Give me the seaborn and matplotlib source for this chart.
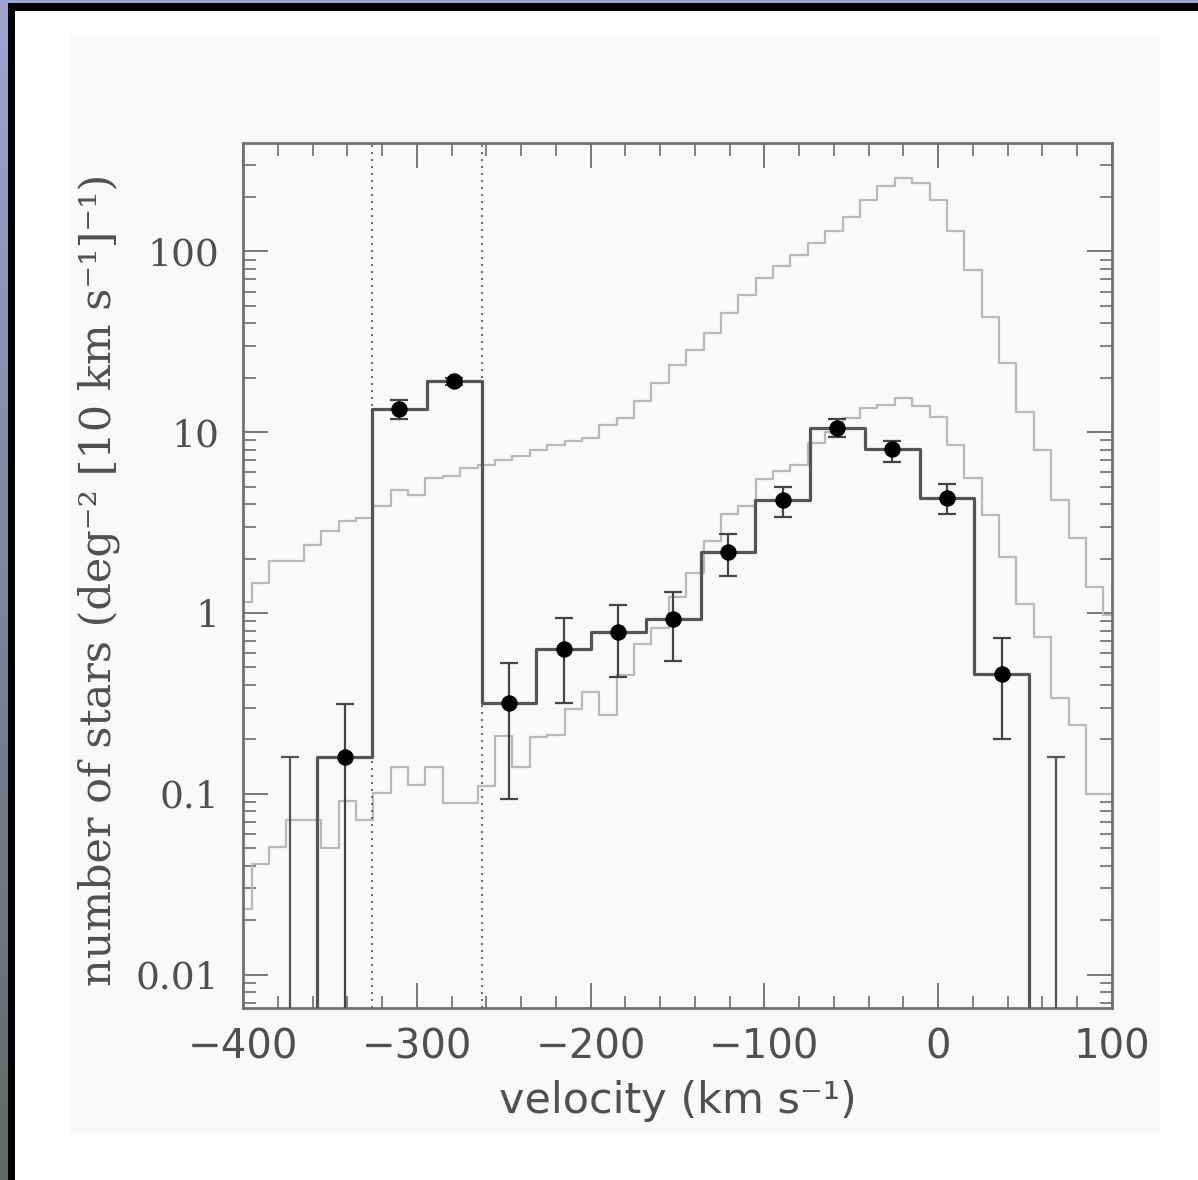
import numpy as np
import matplotlib
matplotlib.use("Agg")
import matplotlib.pyplot as plt
import seaborn as sns
from matplotlib.patches import Rectangle
from matplotlib.ticker import MultipleLocator, LogLocator, NullFormatter

# grey model histograms, 10 km/s bins (edges)
grey_edges = [-405, -395, -385, -375, -365, -355, -345, -335, -325, -315,
              -305, -295, -285, -275, -265, -255, -245, -235, -225, -215,
              -205, -195, -185, -175, -165, -155, -145, -135, -125, -115,
              -105, -95, -85, -75, -65, -55, -45, -35, -25, -15,
              -5, 5, 15, 25, 35, 45, 55, 65, 75, 85, 95, 105]
grey_upper = [1.15, 1.46, 1.93, 1.93, 2.39, 2.83, 3.21, 3.35, 3.89, 4.81,
              4.51, 5.58, 5.70, 6.34, 6.61, 7.05, 7.35, 8.0, 8.53, 8.89,
              9.29, 11.0, 12.0, 14.8, 18.7, 23.4, 28.6, 35.4, 45.6, 57.6,
              71.3, 82.6, 95.9, 111, 129, 156, 193, 229, 255, 239,
              193, 129, 79.3, 43.6, 24.2, 13.0, 8.0, 4.24, 2.60, 1.40, 0.98]
grey_lower = [0.023, 0.041, 0.051, 0.072, 0.072, 0.050, 0.091, 0.072, 0.101, 0.140,
              0.112, 0.140, 0.089, 0.089, 0.111, 0.208, 0.140, 0.205, 0.212, 0.296,
              0.366, 0.273, 0.456, 0.67, 0.83, 1.22, 1.66, 2.49, 3.55, 3.9,
              5.5, 6.1, 6.6, 8.7, 10.0, 12.0, 13.6, 14.2, 15.5, 13.9,
              12.2, 8.5, 5.6, 3.5, 2.05, 1.12, 0.74, 0.34, 0.24, 0.10, 0.10]

# observed histogram (empty bins kept tiny so the steps drop to the axis)
obs_edges = [-388.75, -357.25, -325.75, -294.25, -262.75, -231.25, -199.75, -168.25,
             -136.75, -105.25, -73.75, -42.25, -10.75, 20.75, 52.25, 83.75]
obs_counts = [1e-4, 0.16, 13.5, 19.1, 0.316, 0.63, 0.78, 0.93,
              2.17, 4.2, 10.6, 8.1, 4.35, 0.46, 1e-4]

# data points with error bars
pt_v = [-341.5, -310, -278.5, -247, -215.5, -184, -152.5, -121, -89.5, -58, -26.5, 5, 36.5]
pt_n = [0.16, 13.5, 19.1, 0.316, 0.63, 0.78, 0.93, 2.17, 4.2, 10.6, 8.1, 4.35, 0.46]
pt_lo = [1e-4, 11.9, 18.3, 0.093, 0.316, 0.445, 0.545, 1.6, 3.4, 9.4, 6.8, 3.52, 0.20]
pt_hi = [0.315, 15.0, 20.0, 0.53, 0.94, 1.11, 1.31, 2.75, 5.0, 11.8, 8.9, 5.2, 0.73]

# upper limits for empty bins
lim_v = [-373, 68]
lim_n = [0.16, 0.16]

# velocity cuts
cut_v = [-325.75, -262.75]

sns.set_style("ticks")
plt.rcParams['font.family'] = ['DejaVu Serif']

W, H = 1198, 1180
fig = plt.figure(figsize=(W / 100, H / 100), dpi=100)
fig.patch.set_facecolor('white')

# page frame
frame = [
    ((70 / W, 1 - 1135 / H), 1090 / W, 1100 / H, '#f8f9f8'),
    ((8 / W, 0), 7 / W, 1 - 3 / H, 'black'),
    ((8 / W, 1 - 11 / H), 1 - 8 / W, 8 / H, 'black'),
    ((0, 1 - 3 / H), 1, 3 / H, '#9fa3cf'),
]
for xy, w, h, c in frame:
    fig.patches.append(Rectangle(xy, w, h, transform=fig.transFigure,
                                 facecolor=c, edgecolor='none', zorder=-5))
side = fig.add_axes([0, 0, 8 / W, 1 - 3 / H], zorder=-4)
side.imshow(np.linspace(0, 1, 100).reshape(-1, 1), aspect='auto',
            cmap=matplotlib.colors.LinearSegmentedColormap.from_list(
                'frame', ['#9fa3cf', '#7d8598', '#5f6b68']))
side.axis('off')

ax = fig.add_axes([243 / W, 1 - 1008 / H, 869 / W, 865 / H], zorder=2)
ax.set_facecolor('#f8f9f8')

grey = '#b9b9b9'
gc = [(a + b) / 2 for a, b in zip(grey_edges[:-1], grey_edges[1:])]
sns.histplot(x=gc, weights=grey_upper, bins=grey_edges, element='step', fill=False,
             color=grey, linewidth=1.6, ax=ax, zorder=2)
sns.histplot(x=gc, weights=grey_lower, bins=grey_edges, element='step', fill=False,
             color=grey, linewidth=1.6, ax=ax, zorder=2)

oc = [(a + b) / 2 for a, b in zip(obs_edges[:-1], obs_edges[1:])]
sns.histplot(x=oc, weights=obs_counts, bins=obs_edges, element='step', fill=False,
             color='#555555', linewidth=2.3, ax=ax, zorder=3)

for v in cut_v:
    ax.axvline(v, color='#666666', lw=1.4, ls=(0, (1, 2.6)), zorder=2)

yerr = [np.array(pt_n) - np.array(pt_lo), np.array(pt_hi) - np.array(pt_n)]
ax.errorbar(pt_v, pt_n, yerr=yerr, fmt='none', ecolor='#444444', elinewidth=1.6,
            capsize=6.5, capthick=1.6, zorder=4)
ax.errorbar(lim_v, lim_n, yerr=[np.array(lim_n) - 1e-4, [0, 0]], fmt='none',
            ecolor='#555555', elinewidth=1.6, capsize=6.5, capthick=1.6, zorder=4)
sns.scatterplot(x=pt_v, y=pt_n, color='black', s=140, edgecolor='black', linewidth=0,
                ax=ax, zorder=5)

ax.set_yscale('log')
ax.set_xlim(-400, 100)
ax.set_ylim(0.00653, 398)

ax.set_xticks([-400, -300, -200, -100, 0, 100],
              ['\u2212400', '\u2212300', '\u2212200', '\u2212100', '0', '100'],
              fontfamily='DejaVu Sans', fontsize=29, color='#505050')
ax.xaxis.set_minor_locator(MultipleLocator(20))
ax.set_yticks([0.01, 0.1, 1, 10, 100], ['0.01', '0.1', '1', '10', '100'],
              fontfamily='DejaVu Serif', fontsize=27, color='#505050')
ax.yaxis.set_minor_locator(LogLocator(base=10, subs=np.arange(2, 10)))
ax.yaxis.set_minor_formatter(NullFormatter())

ax.tick_params(which='major', direction='in', length=18, width=1.4, color='#777777',
               top=True, right=True)
ax.tick_params(axis='x', which='major', pad=14)
ax.tick_params(axis='y', which='major', pad=17)
ax.tick_params(which='minor', direction='in', length=9, width=1.3, color='#777777',
               top=True, right=True)
for s in ax.spines.values():
    s.set_color('#707070')
    s.set_linewidth(2.0)

ax.set_xlabel('velocity (km s\u207b\u00b9)', fontfamily='DejaVu Sans', fontsize=31,
              color='#505050')
ax.set_ylabel('number of stars (deg\u207b\u00b2 [10 km s\u207b\u00b9]\u207b\u00b9)',
              fontfamily='DejaVu Serif', fontsize=31, color='#505050')
ax.xaxis.set_label_coords(0.5, -0.083)
ax.yaxis.set_label_coords(-0.141, 0.495)

fig.savefig('out.png', dpi=100)
